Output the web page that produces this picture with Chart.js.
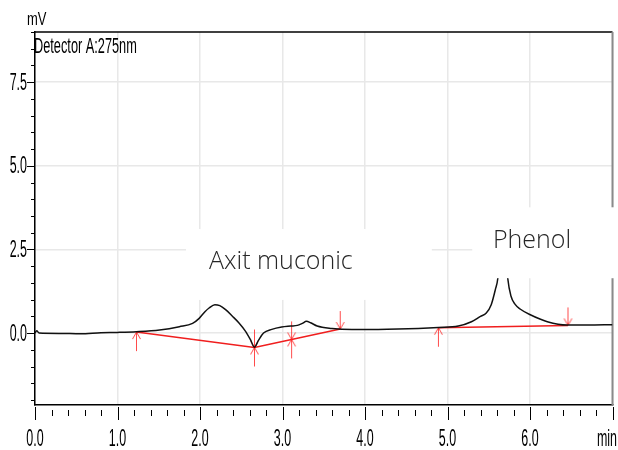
<!DOCTYPE html>
<html>
<head>
<meta charset="utf-8">
<script src="https://cdn.jsdelivr.net/npm/chart.js@4/dist/chart.umd.min.js"></script>
<style>
  html, body { margin: 0; padding: 0; background: #fff; }
</style>
</head>
<body>
<canvas id="chrom" width="618" height="450"></canvas>
<script>
// detector trace: retention time (min) and signal (mV)
const times = [0.00, 0.02, 0.05, 0.30, 0.55, 0.80, 1.00, 1.23, 1.51, 1.75, 1.91, 1.99, 2.06, 2.11, 2.18, 2.24,
  2.31, 2.39, 2.47, 2.55, 2.61, 2.66, 2.71, 2.77, 2.87, 2.99, 3.10, 3.18, 3.24, 3.29, 3.34, 3.42, 3.60, 3.84,
  4.16, 4.40, 4.89, 5.13, 5.29, 5.40, 5.47, 5.53, 5.58, 5.61, 5.64, 5.67, 5.70, 5.73, 5.77, 5.82, 5.88, 6.01,
  6.21, 6.45, 6.70, 7.00];
const signal = [0.00, 0.07, 0.00, -0.01, -0.02, 0.01, 0.02, 0.04, 0.09, 0.19, 0.29, 0.44, 0.64, 0.75, 0.85, 0.82,
  0.70, 0.51, 0.31, 0.06, -0.19, -0.42, -0.21, 0.00, 0.11, 0.18, 0.21, 0.23, 0.29, 0.35, 0.31, 0.21, 0.14, 0.11,
  0.11, 0.12, 0.17, 0.21, 0.34, 0.50, 0.60, 0.85, 1.30, 1.64, 2.60, 3.20, 2.60, 1.64, 1.10, 0.86, 0.72, 0.54,
  0.34, 0.24, 0.24, 0.25];

// integration baselines (null splits the two groups)
const baseTimes = [1.23, 2.66, 3.11, 3.70, 4.30, 4.89, 6.46];
const baseValues = [0.03, -0.43, -0.19, 0.12, null, 0.16, 0.23];
const baseMarks = ['up', 'both', 'both', 'down', '', 'up', 'down'];

const xTicks = [0, 1, 2, 3, 4, 5, 6];
const xTickLabels = ['0.0', '1.0', '2.0', '3.0', '4.0', '5.0', '6.0'];
const yTicks = [0, 2.5, 5, 7.5];
const yTickLabels = ['0.0', '2.5', '5.0', '7.5'];

const peakNames = ['Axit muconic', 'Phenol'];
const peakLabelAt = [[2.11, 1.91], [5.55, 2.54]];
// white label panels: [t0, t1, mV top, mV bottom]
const peakPanels = [[1.83, 4.81, 3.11, 0.99], [5.30, 7.10, 3.76, 1.64]];

const gridColor = '#e8e8e8';
const axisFont = '24px "Liberation Sans", Arial, sans-serif';

function onStep(v, step) {
  const k = v / step;
  return Math.abs(k - Math.round(k)) < 1e-6;
}

// arrow glyphs used as point styles on the baseline ends
function makeArrow(dir) {
  const c = document.createElement('canvas');
  c.width = 11; c.height = 40;
  const g = c.getContext('2d');
  g.strokeStyle = 'rgba(255,30,30,0.8)';
  g.lineWidth = 1;
  const cx = 5.5, cy = 20;
  g.beginPath();
  if (dir === 'up' || dir === 'both') {
    g.moveTo(cx, cy); g.lineTo(cx, cy + 19);
    g.moveTo(cx - 4, cy + 7); g.lineTo(cx, cy); g.lineTo(cx + 4, cy + 7);
  }
  if (dir === 'down' || dir === 'both') {
    g.moveTo(cx, cy); g.lineTo(cx, cy - 18);
    g.moveTo(cx - 4, cy - 7); g.lineTo(cx, cy); g.lineTo(cx + 4, cy - 7);
  }
  g.stroke();
  return c;
}
const arrows = { up: makeArrow('up'), down: makeArrow('down'), both: makeArrow('both') };

function squeezed(ctx, text, x, y, sx, align) {
  ctx.save();
  ctx.translate(x, y);
  ctx.scale(sx, 1);
  ctx.textAlign = align;
  ctx.fillText(text, 0, 0);
  ctx.restore();
}

const decor = {
  id: 'decor',
  beforeDatasetsDraw(chart) {
    const { ctx, chartArea: a, scales: { x, y } } = chart;
    ctx.save();
    ctx.lineCap = 'butt';
    // frame
    ctx.strokeStyle = '#000';
    ctx.lineWidth = 1.5;
    ctx.beginPath(); ctx.moveTo(a.left, a.top); ctx.lineTo(a.right, a.top); ctx.stroke();
    ctx.strokeStyle = '#8a8a8a';
    ctx.lineWidth = 2;
    ctx.beginPath(); ctx.moveTo(a.right, a.top); ctx.lineTo(a.right, a.bottom); ctx.stroke();

    // tick marks
    ctx.strokeStyle = '#000';
    ctx.lineWidth = 1;
    for (let i = 0; i <= 35; i++) {
      const v = i * 0.2;
      const px = Math.round(x.getPixelForValue(v)) + 0.5;
      const major = onStep(v, 1);
      ctx.beginPath();
      ctx.moveTo(px, a.bottom + (major ? 2 : 5));
      ctx.lineTo(px, a.bottom + (major ? 15 : 11));
      ctx.stroke();
    }
    for (let i = -4; i <= 18; i++) {
      const v = i * 0.5;
      const py = Math.round(y.getPixelForValue(v)) + 0.5;
      const major = onStep(v, 2.5);
      ctx.beginPath();
      ctx.moveTo(a.left - (major ? 8 : 4), py);
      ctx.lineTo(a.left, py);
      ctx.stroke();
    }

    // tick labels
    ctx.fillStyle = '#000';
    ctx.font = axisFont;
    ctx.textBaseline = 'alphabetic';
    xTicks.forEach((v, i) => squeezed(ctx, xTickLabels[i], x.getPixelForValue(v), a.bottom + 41, 0.52, 'center'));
    squeezed(ctx, 'min', 617, a.bottom + 41, 0.52, 'right');
    ctx.textBaseline = 'middle';
    yTicks.forEach((v, i) => squeezed(ctx, yTickLabels[i], a.left - 8, y.getPixelForValue(v) + 1, 0.52, 'right'));

    ctx.textBaseline = 'alphabetic';
    ctx.font = '18px "Liberation Sans", Arial, sans-serif';
    squeezed(ctx, 'mV', a.left - 8, a.top - 7, 0.72, 'left');
    ctx.font = '22px "Liberation Sans", Arial, sans-serif';
    squeezed(ctx, 'Detector A:275nm', a.left - 1, a.top + 21, 0.58, 'left');
    ctx.restore();
  },
  afterDatasetsDraw(chart) {
    const { ctx, scales: { x, y } } = chart;
    ctx.save();
    ctx.fillStyle = '#fff';
    peakPanels.forEach(([t0, t1, top, bottom]) => {
      const x0 = x.getPixelForValue(t0), x1 = x.getPixelForValue(t1);
      const y0 = y.getPixelForValue(top), y1 = y.getPixelForValue(bottom);
      ctx.fillRect(x0, y0, x1 - x0, y1 - y0);
    });
    ctx.fillStyle = '#262626';
    ctx.font = '300 25px "Open Sans", "Noto Sans", sans-serif';
    ctx.textAlign = 'left';
    ctx.textBaseline = 'alphabetic';
    peakNames.forEach((name, i) => {
      ctx.fillText(name, x.getPixelForValue(peakLabelAt[i][0]), y.getPixelForValue(peakLabelAt[i][1]));
    });
    ctx.restore();
  }
};

new Chart(document.getElementById('chrom'), {
  type: 'line',
  data: {
    datasets: [
      {
        data: times.map((t, i) => ({ x: t, y: signal[i] })),
        borderColor: '#111',
        borderWidth: 1.5,
        pointRadius: 0,
        cubicInterpolationMode: 'monotone'
      },
      {
        data: baseTimes.map((t, i) => ({ x: t, y: baseValues[i] })),
        borderColor: '#f01e1e',
        borderWidth: 1.5,
        pointRadius: 3,
        pointStyle: baseMarks.map(m => arrows[m] || 'circle'),
        spanGaps: false
      }
    ]
  },
  options: {
    responsive: false,
    devicePixelRatio: 1,
    animation: false,
    layout: { padding: { left: 35, top: 32, right: 3, bottom: 45 } },
    plugins: { legend: { display: false }, tooltip: { enabled: false } },
    scales: {
      x: {
        type: 'linear', min: 0, max: 7,
        ticks: { display: false, stepSize: 0.2 },
        grid: { drawTicks: false, lineWidth: 1.5, color: c => onStep(c.tick.value, 1) ? gridColor : 'rgba(0,0,0,0)' },
        border: { color: '#000', width: 1.5 }
      },
      y: {
        type: 'linear', min: -2.15, max: 9,
        ticks: { display: false, stepSize: 0.5 },
        grid: { drawTicks: false, lineWidth: 1.5, color: c => onStep(c.tick.value, 2.5) ? gridColor : 'rgba(0,0,0,0)' },
        border: { color: '#000', width: 1.5 }
      }
    }
  },
  plugins: [decor]
});
</script>
</body>
</html>
